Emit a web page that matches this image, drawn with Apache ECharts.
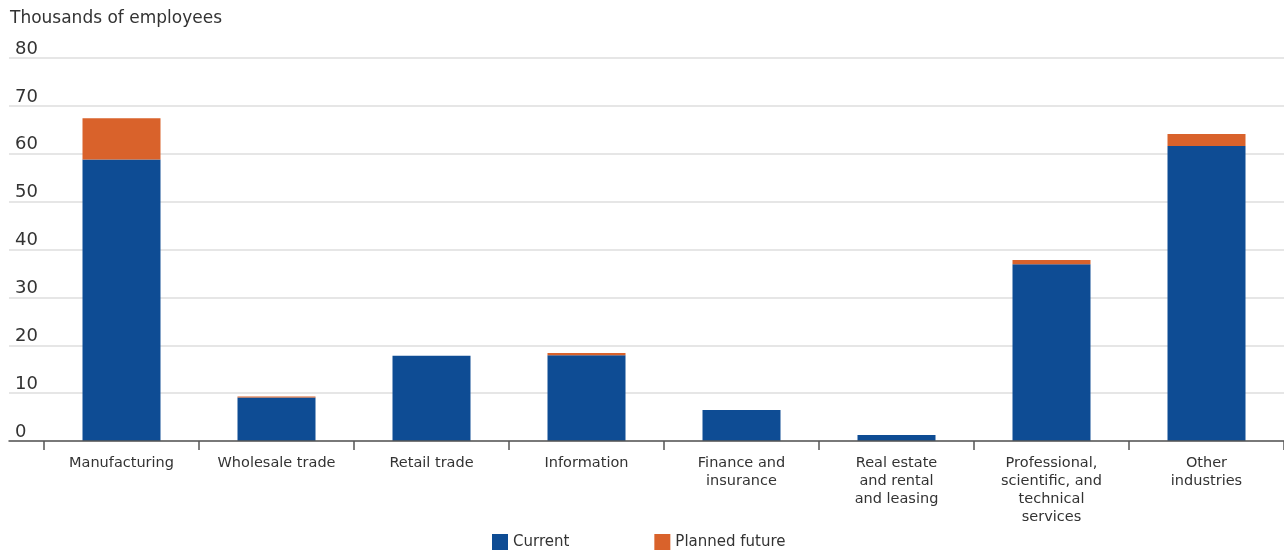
<!DOCTYPE html>
<html><head><meta charset="utf-8">
<script src="https://cdn.jsdelivr.net/npm/echarts@6/dist/echarts.min.js"></script>
<style>html,body{margin:0;padding:0;background:#fff}#c{width:1284px;height:550px}</style>
</head><body><div id="c"></div>
<script>
const categories = ['Manufacturing','Wholesale trade','Retail trade','Information','Finance and\ninsurance','Real estate\nand rental\nand leasing','Professional,\nscientific, and\ntechnical\nservices','Other\nindustries'];
const currentVals = [58.8, 9.1, 17.8, 17.9, 6.5, 1.25, 36.9, 61.6];
const plannedVals = [8.6, 0.2, 0.0, 0.5, 0.0, 0.0, 0.9, 2.5];
const yTicks = [0, 10, 20, 30, 40, 50, 60, 70, 80];

const FONT = 'DejaVu Sans';
const chart = echarts.init(document.getElementById('c'), null, {renderer: 'canvas'});
chart.setOption({
  animation: false,
  textStyle: {fontFamily: FONT},
  title: {text: 'Thousands of employees', left: 5, top: 5,
    textStyle: {fontFamily: FONT, fontSize: 17, fontWeight: 'normal', color: '#333'}},
  legend: {left: 487, top: 529, itemWidth: 16, itemHeight: 16, itemGap: 85,
    icon: 'rect', textStyle: {fontFamily: FONT, fontSize: 15, color: '#333'},
    data: ['Current', 'Planned future']},
  grid: [
    {left: 44, right: 0, top: 58, bottom: 109},
    {left: 9, right: 0, top: 58, bottom: 109}
  ],
  xAxis: [
    {type: 'category', gridIndex: 0, data: categories, boundaryGap: true,
     axisLine: {show: false},
     axisTick: {show: true, length: 9, inside: false, lineStyle: {color: '#555', width: 1.5}},
     axisLabel: {interval: 0, margin: 13, fontFamily: FONT, fontSize: 14.5, lineHeight: 18, color: '#333', align: 'center'},
     z: 5},
    {type: 'value', gridIndex: 1, min: 0, max: 1, show: true,
     axisLine: {show: true, lineStyle: {color: '#555', width: 1.5}},
     axisTick: {show: false}, axisLabel: {show: false}, splitLine: {show: false}, z: 4}
  ],
  yAxis: [
    {type: 'value', gridIndex: 0, min: 0, max: 80, interval: 10,
     axisLabel: {show: false}, splitLine: {show: false}, axisLine: {show: false}, axisTick: {show: false}},
    {type: 'value', gridIndex: 1, min: 0, max: 80, interval: 10,
     axisLine: {show: false}, axisTick: {show: false},
     splitLine: {show: true, lineStyle: {color: '#dedede', width: 1.5}},
     axisLabel: {inside: true, margin: 6, verticalAlign: 'bottom', padding: [0,0,0,0],
       fontFamily: FONT, fontSize: 18, color: '#333',
       formatter: v => yTicks.includes(v) ? String(v) : ''}}
  ],
  series: [
    {name: 'Current', type: 'bar', stack: 's', xAxisIndex: 0, yAxisIndex: 0, barWidth: 78,
     itemStyle: {color: '#0E4C94'}, data: currentVals},
    {name: 'Planned future', type: 'bar', stack: 's', xAxisIndex: 0, yAxisIndex: 0, barWidth: 78,
     itemStyle: {color: '#D9622B'}, data: plannedVals}
  ]
});
</script></body></html>
